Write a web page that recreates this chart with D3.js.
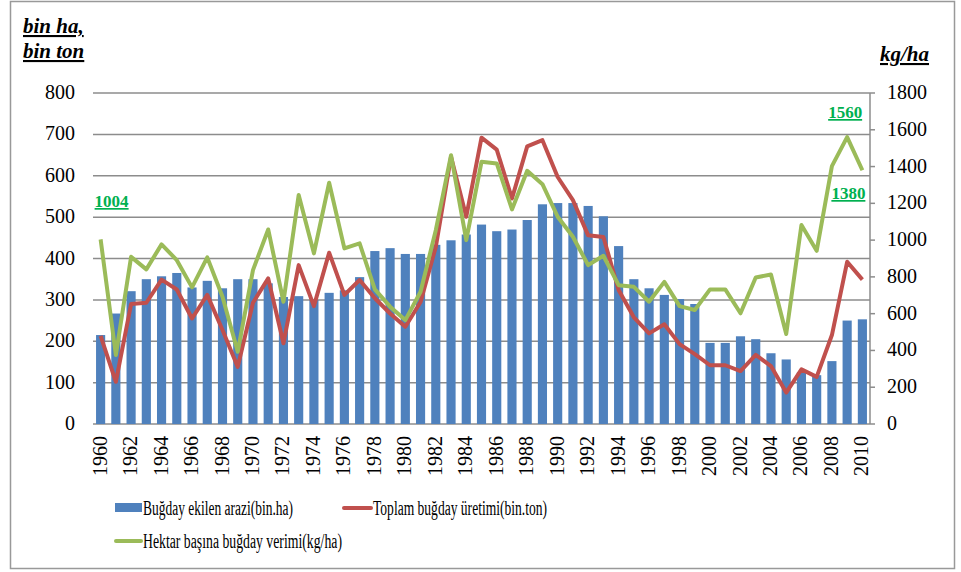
<!DOCTYPE html>
<html>
<head>
<meta charset="utf-8">
<script src="https://cdn.jsdelivr.net/npm/d3@7"></script>
<style>
  body { margin: 0; background: #fff; }
  svg text { font-family: "Liberation Serif", "Times New Roman", Times, "DejaVu Serif", serif; }
</style>
</head>
<body>
<div id="viz"></div>
<script>
const WIDTH = 961, HEIGHT = 572;

const years = d3.range(1960, 2011);
// Buğday ekilen arazi (bin ha)
const area = [215, 267, 321, 350, 357, 365, 330, 346, 328, 350, 350, 340, 307, 309, 300, 317, 323, 355,
  418, 425, 411, 411, 433, 444, 458, 482, 466, 470, 493, 531, 534, 534, 527, 502,
  430, 350, 328, 312, 302, 290, 196, 196, 212, 205, 171, 156, 125, 118, 152, 250, 253];
// Toplam buğday üretimi (bin ton)
const production = [213, 102, 290, 293, 349, 325, 255, 312, 227, 138, 293, 352, 195, 384, 285, 414, 312, 348,
  304, 267, 235, 295, 428, 646, 501, 692, 663, 545, 671, 686, 597, 541, 456, 452,
  324, 258, 219, 241, 193, 169, 142, 142, 128, 167, 140, 76, 132, 114, 215, 392, 349];
// Hektar başına buğday verimi (kg/ha)
const yieldKg = [1004, 375, 909, 841, 977, 891, 743, 906, 692, 393, 837, 1058, 665, 1245, 928, 1312, 955, 982,
  732, 638, 565, 719, 1054, 1462, 1000, 1426, 1417, 1167, 1377, 1304, 1127, 1018, 864, 915,
  755, 746, 665, 773, 641, 620, 732, 732, 602, 797, 813, 489, 1082, 942, 1402, 1560, 1380];

const leftTicks = d3.range(0, 801, 100);
const rightTicks = d3.range(0, 1801, 200);

const COLORS = { bar: "#4F81BD", red: "#C0504D", green: "#9BBB59", label: "#00B050", grid: "#8c8c8c" };
const SERIF = "Liberation Serif";

const svg = d3.select("#viz").append("svg")
  .attr("width", WIDTH).attr("height", HEIGHT)
  .attr("font-family", SERIF);

svg.append("rect")
  .attr("x", 10.5).attr("y", 1.5).attr("width", 944).attr("height", 567)
  .attr("fill", "#fff").attr("stroke", "#999").attr("stroke-width", 1.5);

const plot = { left: 93, right: 870, top: 93, bottom: 424 };

const x = d3.scaleBand().domain(years).range([plot.left, plot.right]).paddingInner(0.4).paddingOuter(0.2);
const yL = d3.scaleLinear().domain([0, 800]).range([plot.bottom, plot.top]);
const yR = d3.scaleLinear().domain([0, 1800]).range([plot.bottom, plot.top]);

// gridlines
svg.append("g").selectAll("line")
  .data(leftTicks)
  .join("line")
  .attr("x1", plot.left).attr("x2", plot.right)
  .attr("y1", d => yL(d)).attr("y2", d => yL(d))
  .attr("stroke", COLORS.grid).attr("stroke-width", 1.5);

// left tick labels
svg.append("g").selectAll("text")
  .data(leftTicks)
  .join("text")
  .attr("x", 75).attr("y", d => yL(d) + 6)
  .attr("text-anchor", "end")
  .attr("font-size", 20)
  .text(d => d);

// right axis
const rAxis = svg.append("g");
rAxis.append("line")
  .attr("x1", plot.right).attr("x2", plot.right)
  .attr("y1", plot.top).attr("y2", plot.bottom)
  .attr("stroke", COLORS.grid).attr("stroke-width", 1.5);
rAxis.selectAll("line.tick")
  .data(rightTicks)
  .join("line")
  .attr("class", "tick")
  .attr("x1", plot.right).attr("x2", plot.right + 5)
  .attr("y1", d => yR(d)).attr("y2", d => yR(d))
  .attr("stroke", COLORS.grid).attr("stroke-width", 1.5);
rAxis.selectAll("text")
  .data(rightTicks)
  .join("text")
  .attr("x", 887).attr("y", d => yR(d) + 6)
  .attr("font-size", 20)
  .text(d => d);

// bars
svg.append("g").selectAll("rect")
  .data(years)
  .join("rect")
  .attr("x", d => x(d))
  .attr("width", x.bandwidth())
  .attr("y", (d, i) => yL(area[i]))
  .attr("height", (d, i) => plot.bottom - yL(area[i]))
  .attr("fill", COLORS.bar);

// x labels, every second year
svg.append("g").selectAll("text")
  .data(years.filter(d => d % 2 === 0))
  .join("text")
  .attr("transform", d => `translate(${x(d) + x.bandwidth() / 2 + 6},436) rotate(-90)`)
  .attr("text-anchor", "end")
  .attr("font-size", 20)
  .text(d => d);

const cx = d => x(d) + x.bandwidth() / 2;

svg.append("path")
  .datum(years)
  .attr("fill", "none")
  .attr("stroke", COLORS.red)
  .attr("stroke-width", 4)
  .attr("stroke-linejoin", "round")
  .attr("d", d3.line().x(d => cx(d)).y((d, i) => yL(production[i])));

svg.append("path")
  .datum(years)
  .attr("fill", "none")
  .attr("stroke", COLORS.green)
  .attr("stroke-width", 4)
  .attr("stroke-linejoin", "round")
  .attr("d", d3.line().x(d => cx(d)).y((d, i) => yR(yieldKg[i])));

// value labels
const valLabels = [
  { year: 1960, dx: -6, y: 207 },
  { year: 2009, dx: -19, y: 118 },
  { year: 2010, dx: -31, y: 199 }
];
valLabels.forEach(l => {
  svg.append("text")
    .attr("x", cx(l.year) + l.dx).attr("y", l.y)
    .attr("font-size", 17).attr("font-weight", "bold")
    .attr("fill", COLORS.label)
    .attr("text-decoration", "underline")
    .text(yieldKg[years.indexOf(l.year)]);
});

// axis titles
const titleStyle = t => t.attr("font-size", 21).attr("font-weight", "bold").attr("font-style", "italic")
  .attr("text-decoration", "underline");
svg.append("text").attr("x", 23).attr("y", 33).call(titleStyle).text("bin ha,");
svg.append("text").attr("x", 23).attr("y", 58).call(titleStyle).text("bin ton");
svg.append("text").attr("x", 880).attr("y", 61).call(titleStyle).text("kg/ha");

// legend
const legend = svg.append("g");
legend.append("rect").attr("x", 115).attr("y", 503).attr("width", 27).attr("height", 9).attr("fill", COLORS.bar);
legend.append("text").attr("x", 143).attr("y", 515).attr("font-size", 20)
  .attr("textLength", 150).attr("lengthAdjust", "spacingAndGlyphs")
  .text("Buğday ekilen arazi(bin.ha)");
legend.append("line").attr("x1", 344).attr("x2", 371).attr("y1", 508).attr("y2", 508)
  .attr("stroke", COLORS.red).attr("stroke-width", 4).attr("stroke-linecap", "round");
legend.append("text").attr("x", 373).attr("y", 515).attr("font-size", 20)
  .attr("textLength", 174).attr("lengthAdjust", "spacingAndGlyphs")
  .text("Toplam buğday üretimi(bin.ton)");
legend.append("line").attr("x1", 116).attr("x2", 141).attr("y1", 541).attr("y2", 541)
  .attr("stroke", COLORS.green).attr("stroke-width", 4).attr("stroke-linecap", "round");
legend.append("text").attr("x", 143).attr("y", 548).attr("font-size", 20)
  .attr("textLength", 199).attr("lengthAdjust", "spacingAndGlyphs")
  .text("Hektar başına buğday verimi(kg/ha)");
</script>
</body>
</html>
